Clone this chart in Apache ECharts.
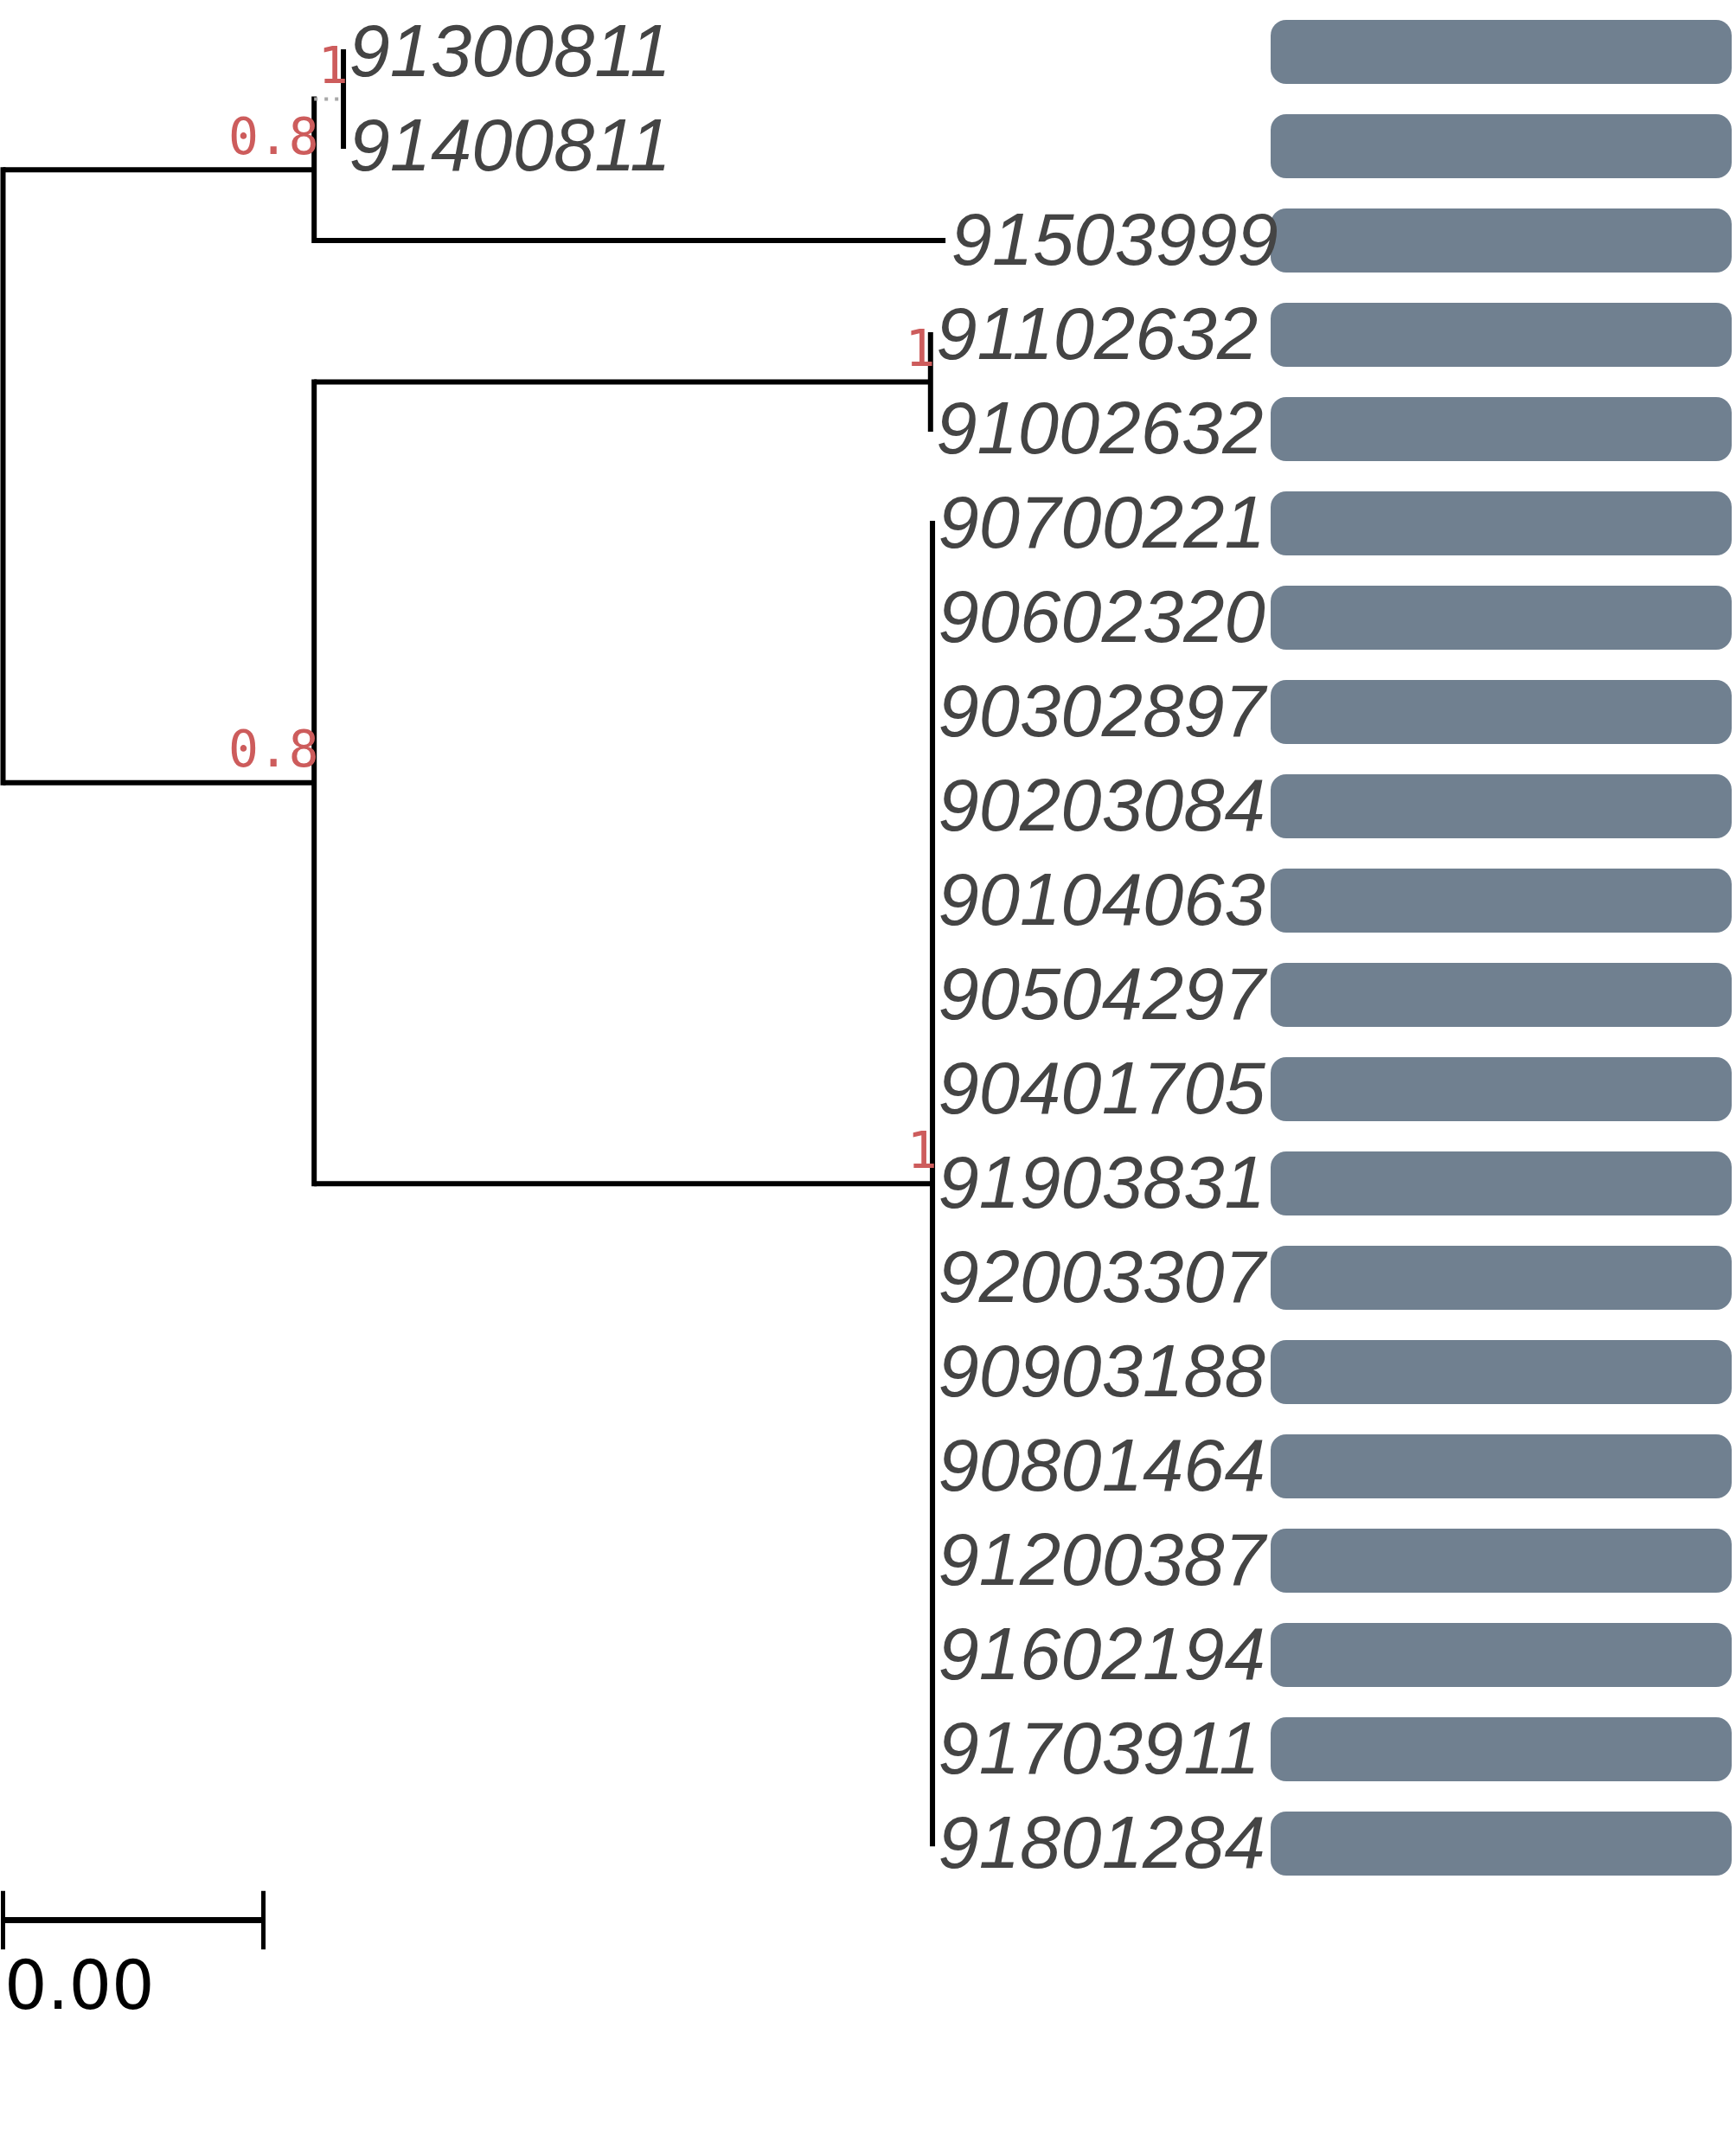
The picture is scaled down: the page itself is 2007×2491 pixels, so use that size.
<!DOCTYPE html>
<html><head><meta charset="utf-8">
<script src="https://cdn.jsdelivr.net/npm/echarts@6/dist/echarts.min.js"></script>
<style>html,body{margin:0;padding:0;background:#fff}#c{width:2007px;height:2491px}</style>
</head><body><div id="c"></div>
<script>
// ---- data ----
const tipLabels = ['91300811','91400811','91503999','91102632','91002632','90700221','90602320','90302897','90203084','90104063','90504297','90401705','91903831','92003307','90903188','90801464','91200387','91602194','91703911','91801284'];
const tipParent = ['C','C','A','D','D','E','E','E','E','E','E','E','E','E','E','E','E','E','E','E'];
const tipBranch = [0,0,0.00970,0,0,0,0,0,0,0,0,0,0,0,0,0,0,0,0,0];
const nodeNames = ['root','A','C','B','D','E'];
const nodeParent = [null,'root','A','root','B','B'];
const nodeBranch = [0,0.00478,0.00045,0.00478,0.00947,0.00950];
const nodeSupport = [null,0.8,1,0.8,1,1];
const barValues = [1,1,1,1,1,1,1,1,1,1,1,1,1,1,1,1,1,1,1,1];
const scaleBarWidth = 0.004;

// ---- tree layout (x = cumulative branch length, y = tip order) ----
const nodeX = {}, nodeY = {};
nodeNames.forEach((n, i) => {
  const p = nodeParent[i];
  nodeX[n] = (p === null ? 0 : nodeX[p]) + nodeBranch[i];
});
const tipX = tipLabels.map((t, i) => nodeX[tipParent[i]] + tipBranch[i]);
const children = {};
nodeNames.forEach(n => children[n] = []);
nodeNames.forEach((n, i) => { if (nodeParent[i] !== null) children[nodeParent[i]].push({type:'node', name:n}); });
tipLabels.forEach((t, i) => children[tipParent[i]].push({type:'tip', idx:i}));
function getY(n) {
  if (nodeY[n] !== undefined) return nodeY[n];
  const ys = children[n].map(c => c.type === 'tip' ? c.idx : getY(c.name));
  nodeY[n] = ys.reduce((a, b) => a + b, 0) / ys.length;
  return nodeY[n];
}
nodeNames.forEach(getY);
function childXY(c) { return c.type === 'tip' ? [tipX[c.idx], c.idx] : [nodeX[c.name], nodeY[c.name]]; }

// segment style keys: 0 = vertical, 1 = horizontal, 2 = dotted, 3 = scale bar, 4 = scale tick
const STYLES = [
  {stroke: '#000', lineWidth: 6, lineCap: 'square'},
  {stroke: '#000', lineWidth: 6, lineCap: 'butt'},
  {stroke: '#a8a8a8', lineWidth: 4, lineCap: 'butt', lineDash: [4, 8]},
  {stroke: '#000', lineWidth: 7, lineCap: 'butt'},
  {stroke: '#000', lineWidth: 5, lineCap: 'butt'}
];
const dottedBranch = {C: true};
const segs = [];
nodeNames.forEach(n => {
  const ys = children[n].map(c => childXY(c)[1]);
  segs.push([nodeX[n], Math.min(...ys), nodeX[n], Math.max(...ys), 0]);
  children[n].forEach(c => {
    const [cx, cy] = childXY(c);
    if (cx > nodeX[n]) {
      const dotted = c.type === 'node' && dottedBranch[c.name];
      segs.push([nodeX[n], cy, cx, cy, dotted ? 2 : 1]);
    }
  });
});
const sbY = 19.81, sbTick = 0.31;
segs.push([0, sbY, scaleBarWidth, sbY, 3]);
segs.push([0, sbY - sbTick, 0, sbY + sbTick, 4]);
segs.push([scaleBarWidth, sbY - sbTick, scaleBarWidth, sbY + sbTick, 4]);

const supportPts = [];
nodeNames.forEach((n, i) => { if (nodeSupport[i] !== null) supportPts.push([nodeX[n], nodeY[n], nodeSupport[i]]); });
const tipPts = tipLabels.map((t, i) => [tipX[i], i, t]);

const hidden = {color: 'rgba(0,0,0,0)', opacity: 1};
const chart = echarts.init(document.getElementById('c'), null, {renderer: 'canvas'});
chart.setOption({
  animation: false,
  backgroundColor: '#ffffff',
  grid: [
    {left: 0, top: 0, width: 2007, height: 2491, containLabel: false},
    {left: 1469, top: 5.5, width: 533, height: 2180, containLabel: false}
  ],
  xAxis: [
    {type: 'value', gridIndex: 0, min: -0.0000465, max: 0.026625, show: false},
    {type: 'value', gridIndex: 1, min: 0, max: 1, show: false}
  ],
  yAxis: [
    {type: 'value', gridIndex: 0, min: -0.55, max: 22.30, inverse: true, show: false},
    {type: 'category', gridIndex: 1, data: tipLabels, inverse: true, show: false}
  ],
  series: [
    {type: 'custom', xAxisIndex: 0, yAxisIndex: 0, silent: true, clip: false, data: segs,
      encode: {x: [0, 2], y: [1, 3]},
      renderItem: (params, api) => {
        const p1 = api.coord([api.value(0), api.value(1)]);
        const p2 = api.coord([api.value(2), api.value(3)]);
        return {type: 'line', shape: {x1: p1[0], y1: p1[1], x2: p2[0], y2: p2[1]},
          style: Object.assign({fill: null}, STYLES[api.value(4)])};
      }},
    {type: 'scatter', xAxisIndex: 0, yAxisIndex: 0, silent: true, symbolSize: 1,
      itemStyle: hidden, data: tipPts,
      label: {show: true, position: 'right', distance: 6, offset: [0, 4], formatter: p => p.value[2],
        fontFamily: 'Liberation Sans', fontStyle: 'italic', fontSize: 85, color: '#444444'}},
    {type: 'scatter', xAxisIndex: 0, yAxisIndex: 0, silent: true, symbolSize: 1,
      itemStyle: hidden, data: supportPts,
      label: {show: true, position: [6, -33], align: 'right', verticalAlign: 'middle',
        formatter: p => String(p.value[2]),
        fontFamily: 'DejaVu Sans Mono', fontSize: 58, color: '#CD5C5C'}},
    {type: 'scatter', xAxisIndex: 0, yAxisIndex: 0, silent: true, symbolSize: 1,
      itemStyle: hidden, data: [[0, 20.57, scaleBarWidth]],
      label: {show: true, position: [2, 0], align: 'left', verticalAlign: 'middle',
        formatter: p => p.value[2].toFixed(2),
        fontFamily: 'DejaVu Sans', fontSize: 78, color: '#000000'}},
    {type: 'bar', xAxisIndex: 1, yAxisIndex: 1, silent: true, data: barValues, barWidth: 74,
      itemStyle: {color: '#708090', borderRadius: 18}}
  ]
});
</script>
</body></html>
